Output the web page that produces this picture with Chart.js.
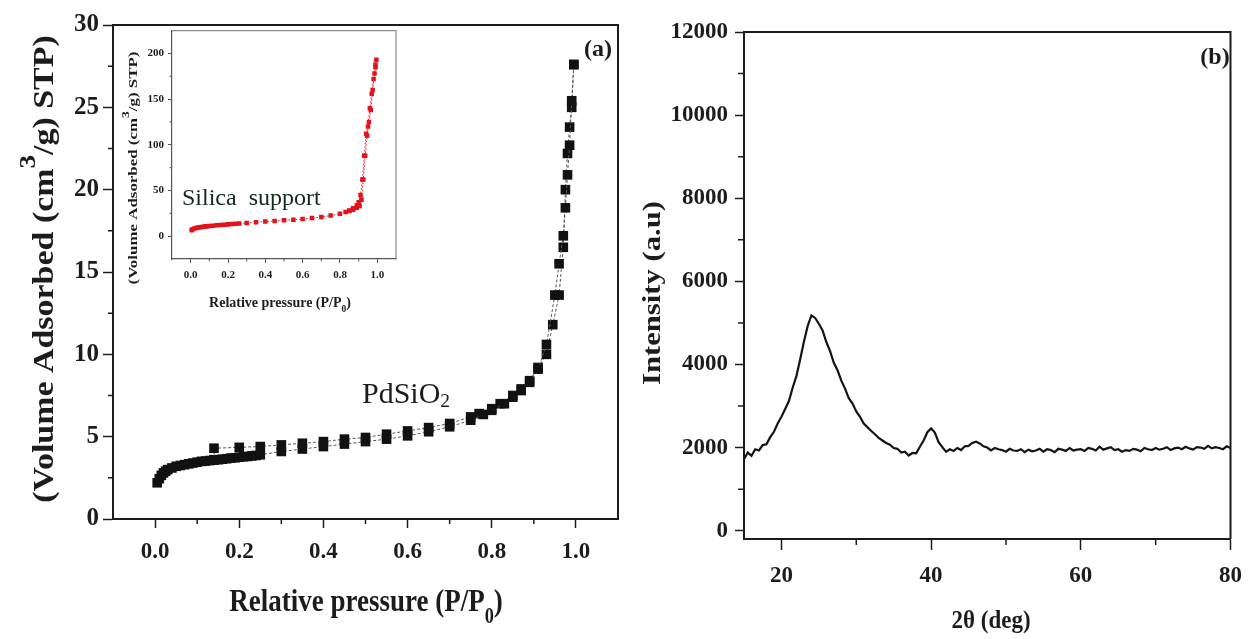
<!DOCTYPE html>
<html>
<head>
<meta charset="utf-8">
<script src="https://cdn.jsdelivr.net/npm/chart.js@4.4.1/dist/chart.umd.min.js"></script>
<style>
html, body { margin: 0; padding: 0; background: #fff; width: 1254px; height: 639px; overflow: hidden; }
canvas { position: absolute; }
</style>
</head>
<body>
<canvas id="chartA" width="640" height="639" style="left:0;top:0"></canvas>
<canvas id="chartInset" width="290" height="300" style="left:115px;top:20px"></canvas>
<canvas id="chartB" width="614" height="639" style="left:640px;top:0"></canvas>
<script>
// (a) PdSiO2 isotherm
const pAds = [0.005,0.01,0.015,0.02,0.025,0.03,0.04,0.05,0.06,0.07,0.08,0.09,0.10,0.11,0.12,0.13,0.14,0.15,0.16,0.17,0.18,0.19,0.20,0.21,0.22,0.23,0.24,0.25,0.30,0.35,0.40,0.45,0.50,0.55,0.60,0.65,0.70,0.75,0.78,0.80,0.83,0.85,0.87,0.89,0.91,0.93,0.95,0.96,0.97,0.975,0.98,0.985,0.99,0.995]
const vAds = [2.2,2.45,2.65,2.8,2.9,3.0,3.1,3.2,3.25,3.3,3.35,3.4,3.45,3.5,3.52,3.55,3.58,3.6,3.63,3.66,3.7,3.72,3.75,3.78,3.8,3.83,3.86,3.9,4.1,4.25,4.4,4.55,4.7,4.85,5.05,5.3,5.6,6.0,6.35,6.6,7.0,7.4,7.8,8.3,9.1,10.6,13.6,15.5,17.2,18.9,20.9,22.7,25.4,27.6]
const pDes = [0.995,0.99,0.985,0.98,0.975,0.97,0.96,0.945,0.93,0.91,0.89,0.87,0.85,0.82,0.80,0.77,0.75,0.70,0.65,0.60,0.55,0.50,0.45,0.40,0.35,0.30,0.25,0.20,0.14,0.14]
const vDes = [27.6,25.0,23.8,22.2,20.0,16.5,13.6,11.8,10.0,9.2,8.4,7.9,7.5,7.0,6.7,6.4,6.2,5.8,5.55,5.35,5.15,4.95,4.85,4.7,4.6,4.5,4.4,4.35,4.3,3.6]
const xTicksA = [0,0.2,0.4,0.6,0.8,1.0]
const xMinorA = [0.1,0.3,0.5,0.7,0.9]
const yTicksA = [0,5,10,15,20,25,30]
const yMinorA = [2.5,7.5,12.5,17.5,22.5,27.5]

// inset: silica support
const pSil = [0.005,0.01,0.02,0.03,0.04,0.05,0.06,0.07,0.08,0.09,0.10,0.12,0.14,0.16,0.18,0.20,0.22,0.24,0.26,0.30,0.35,0.40,0.45,0.50,0.55,0.60,0.65,0.70,0.75,0.80,0.83,0.85,0.87,0.89,0.90,0.91,0.92,0.93,0.94,0.95,0.96,0.97,0.98,0.99,0.995]
const vSil = [6.5,7.5,8.5,9,9.5,9.8,10.1,10.4,10.7,10.9,11.1,11.5,11.9,12.3,12.6,12.9,13.2,13.5,13.8,14.5,15.3,16,16.6,17.3,18,18.8,19.8,21,22.5,24.5,26.5,28,30.5,33.5,37,45,62,88,112,120,140,156,172,185,193]
const pSilDes = [0.99,0.985,0.975,0.965,0.955,0.945,0.935,0.925,0.915,0.905,0.89,0.87,0.85]
const vSilDes = [188,178,160,138,125,110,88,62,40,33,31,29,27.5]
const xTicksIn = [0,0.2,0.4,0.6,0.8,1.0]
const xMinorIn = [0.1,0.3,0.5,0.7,0.9]
const yTicksIn = [0,50,100,150,200]
const yMinorIn = [25,75,125,175]

// (b) XRD pattern
const twoTheta = [15,15.5,16,16.5,17,17.5,18,18.5,19,19.5,20,20.5,21,21.5,22,22.5,23,23.5,24,24.5,25,25.5,26,26.5,27,27.5,28,28.5,29,29.5,30,30.5,31,31.5,32,32.5,33,33.5,34,34.5,35,35.5,36,36.5,37,37.5,38,38.5,39,39.5,40,40.5,41,41.5,42,42.5,43,43.5,44,44.5,45,45.5,46,46.5,47,47.5,48,48.5,49,49.5,50,50.5,51,51.5,52,52.5,53,53.5,54,54.5,55,55.5,56,56.5,57,57.5,58,58.5,59,59.5,60,60.5,61,61.5,62,62.5,63,63.5,64,64.5,65,65.5,66,66.5,67,67.5,68,68.5,69,69.5,70,70.5,71,71.5,72,72.5,73,73.5,74,74.5,75,75.5,76,76.5,77,77.5,78,78.5,79,79.5,80]
const intensity = [
  1720,1880,1800,1960,1930,2060,2080,2250,2380,2580,
  2740,2930,3120,3440,3720,4120,4540,4920,5180,5120,
  4980,4820,4540,4320,4040,3860,3610,3420,3190,3060,
  2870,2740,2580,2490,2400,2320,2230,2170,2110,2070,
  1990,1970,1880,1900,1810,1870,1860,2020,2170,2370,
  2460,2360,2130,2010,1900,1960,1920,1990,1940,2030,
  2040,2110,2140,2100,2030,2000,1930,1990,1960,1940,
  1900,1970,1930,1920,1960,1890,1950,1910,1930,1970,
  1900,1960,1940,1890,1970,1950,1920,1990,1930,1950,
  1960,1920,1990,1970,1930,2020,1950,1980,2010,1940,
  1960,1900,1940,1920,1970,1950,1910,1990,1960,1940,
  1990,1950,1970,2010,1940,1980,2000,1960,2020,1980,
  1950,2010,2000,1970,2040,1980,2010,1990,1960,2030,
  1990]
const xTicksB = [20,40,60,80]
const xMinorB = [30,50,70]
const yTicksB = [0,2000,4000,6000,8000,10000,12000]
const yMinorB = [1000,3000,5000,7000,9000,11000]

const INK = '#1c1c1c'
const SERIF = '"Liberation Serif", "Times New Roman", serif'
const toPts = (xs, ys) => xs.map((x, i) => ({ x: x, y: ys[i] }))

function drawLabel(ctx, t) {
  ctx.save()
  ctx.translate(t.x, t.y)
  if (t.rot) ctx.rotate(t.rot)
  ctx.scale(t.sx || 1, t.sy || 1)
  ctx.fillStyle = t.color || INK
  ctx.textBaseline = 'alphabetic'
  ctx.textAlign = 'left'
  const font = k => `${t.weight || 'bold'} ${t.size * k}px ${SERIF}`
  let w = 0
  t.parts.forEach(p => { ctx.font = font(p[1]); w += ctx.measureText(p[0]).width })
  let cx = t.align === 'left' ? 0 : -w / 2
  t.parts.forEach(p => {
    ctx.font = font(p[1])
    ctx.fillText(p[0], cx, p[2] * t.size)
    cx += ctx.measureText(p[0]).width
  })
  ctx.restore()
}

function decor(o) {
  return {
    id: 'decor',
    beforeDraw(chart) {
      if (!o.fill) return
      const a = chart.chartArea, ctx = chart.ctx
      ctx.save()
      ctx.fillStyle = o.fill
      ctx.fillRect(a.left, a.top, a.right - a.left, a.bottom - a.top)
      ctx.restore()
    },
    afterDraw(chart) {
      const { ctx, chartArea: a, scales } = chart
      ctx.save()
      ctx.strokeStyle = o.frame
      ctx.lineWidth = o.frameW
      ctx.beginPath()
      ctx.moveTo(a.left, a.top); ctx.lineTo(a.right, a.top); ctx.lineTo(a.right, a.bottom)
      ctx.stroke()
      ctx.strokeStyle = o.tick
      ctx.lineWidth = o.tickW
      ctx.beginPath()
      o.minorX.forEach(v => {
        const px = scales.x.getPixelForValue(v)
        ctx.moveTo(px, a.bottom); ctx.lineTo(px, a.bottom + o.minorLen)
      })
      o.minorY.forEach(v => {
        const py = scales.y.getPixelForValue(v)
        ctx.moveTo(a.left, py); ctx.lineTo(a.left - o.minorLen, py)
      })
      ctx.stroke()
      ctx.restore()
      o.texts.forEach(t => drawLabel(ctx, t))
    }
  }
}

function axis(min, max, tickVals, o) {
  return {
    type: 'linear', min: min, max: max,
    afterBuildTicks: s => { s.ticks = tickVals.map(v => ({ value: v })) },
    afterFit: s => {
      if (o.width !== undefined) s.width = o.width
      if (o.height !== undefined) s.height = o.height
    },
    grid: { drawOnChartArea: false, drawTicks: true, tickLength: o.tl, tickWidth: o.tw || 1.5, tickColor: o.color || INK },
    border: { display: true, color: o.color || INK, width: o.bw || 2 },
    ticks: {
      autoSkip: false, maxRotation: 0, padding: o.pad, color: INK,
      font: { family: SERIF, weight: 'bold', size: o.size },
      callback: o.fmt || (v => String(v))
    }
  }
}

const base = {
  responsive: false,
  animation: false,
  events: [],
  plugins: { legend: { display: false }, tooltip: { enabled: false } }
}

// ---- panel (a)
const isoStyle = {
  showLine: true, borderColor: '#5a5a5a', borderWidth: 1, borderDash: [3, 2],
  pointStyle: 'rect', pointRadius: 6.8, pointBackgroundColor: '#111', pointBorderColor: '#111', pointBorderWidth: 0
}
new Chart(document.getElementById('chartA'), {
  type: 'line',
  data: { datasets: [
    Object.assign({ data: toPts(pAds, vAds) }, isoStyle),
    Object.assign({ data: toPts(pDes, vDes) }, isoStyle)
  ] },
  options: Object.assign({}, base, {
    layout: { padding: { left: 0, top: 25, right: 22, bottom: 0 } },
    scales: {
      x: axis(-0.1, 1.1, xTicksA, { height: 120, tl: 9, pad: 10, size: 23, fmt: v => v.toFixed(1) }),
      y: axis(0, 30, yTicksA, { width: 113, tl: 10, pad: 4, size: 25 })
    }
  }),
  plugins: [decor({
    frame: INK, frameW: 2, tick: INK, tickW: 1.5, minorLen: 5,
    minorX: xMinorA, minorY: yMinorA,
    texts: [
      { parts: [['(Volume Adsorbed (cm', 1, 0], ['3', 0.8, -0.62], ['/g) STP)', 1, 0]], x: 53, y: 269, size: 29, rot: -Math.PI / 2, sx: 1.17 },
      { parts: [['Relative pressure (P/P', 1, 0], ['0', 0.68, 0.38], [')', 1, 0]], x: 366, y: 611, size: 27, sy: 1.2 },
      { parts: [['(a)', 1, 0]], x: 598, y: 56, size: 24 },
      { parts: [['PdSiO', 1, 0], ['2', 0.65, 0.12]], x: 362, y: 403, size: 30, weight: 'normal', align: 'left' }
    ]
  })]
})

// ---- inset
const silStyle = {
  showLine: true, borderColor: '#e3131b', borderWidth: 1, borderDash: [1.5, 2],
  pointStyle: 'rect', pointRadius: 3.2, pointBackgroundColor: '#e3131b', pointBorderColor: '#e3131b', pointBorderWidth: 0
}
new Chart(document.getElementById('chartInset'), {
  type: 'line',
  data: { datasets: [
    Object.assign({ data: toPts(pSil, vSil) }, silStyle),
    Object.assign({ data: toPts(pSilDes, vSilDes) }, silStyle)
  ] },
  options: Object.assign({}, base, {
    layout: { padding: { left: 0, top: 10, right: 9, bottom: 0 } },
    scales: {
      x: axis(-0.1, 1.1, xTicksIn, { height: 61, tl: 4, tw: 1, bw: 1.2, pad: 6, size: 11, color: '#555', fmt: v => v.toFixed(1) }),
      y: axis(-25, 225, yTicksIn, { width: 57, tl: 4, tw: 1, bw: 1.2, pad: 4, size: 11, color: '#555' })
    }
  }),
  plugins: [decor({
    fill: '#fff', frame: '#8a8a8a', frameW: 1.2, tick: '#555', tickW: 1, minorLen: 2.5,
    minorX: xMinorIn, minorY: yMinorIn,
    texts: [
      { parts: [['(Volume Adsorbed (cm', 1, 0], ['3', 0.8, -0.62], ['/g) STP)', 1, 0]], x: 22, y: 148, size: 13, rot: -Math.PI / 2, sx: 1.3 },
      { parts: [['Relative pressure (P/P', 1, 0], ['0', 0.68, 0.35], [')', 1, 0]], x: 165, y: 287, size: 14 },
      { parts: [['Silica  support', 1, 0]], x: 67, y: 185, size: 24, weight: 'normal', align: 'left', color: '#13281c' }
    ]
  })]
})

// ---- panel (b)
new Chart(document.getElementById('chartB'), {
  type: 'line',
  data: { datasets: [{
    data: toPts(twoTheta, intensity),
    borderColor: '#141414', borderWidth: 2.2, pointRadius: 0, tension: 0
  }] },
  options: Object.assign({}, base, {
    layout: { padding: { left: 0, top: 32, right: 16, bottom: 0 } },
    scales: {
      x: axis(15, 80, xTicksB, { height: 100, tl: 11, pad: 12, size: 23 }),
      y: axis(-200, 12000, yTicksB, { width: 104, tl: 9, pad: 7, size: 23 })
    }
  }),
  plugins: [decor({
    frame: INK, frameW: 2, tick: INK, tickW: 1.5, minorLen: 6,
    minorX: xMinorB, minorY: yMinorB,
    texts: [
      { parts: [['Intensity (a.u)', 1, 0]], x: 20, y: 293, size: 26, rot: -Math.PI / 2, sx: 1.18 },
      { parts: [['2θ (deg)', 1, 0]], x: 351, y: 628, size: 23, sy: 1.1 },
      { parts: [['(b)', 1, 0]], x: 575, y: 64, size: 24 }
    ]
  })]
})
</script>
</body>
</html>
